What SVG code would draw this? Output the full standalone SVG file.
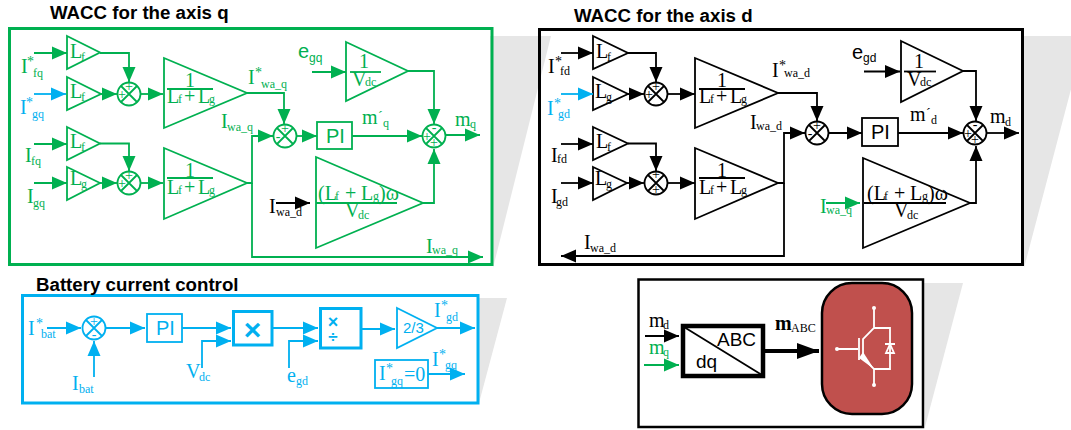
<svg xmlns="http://www.w3.org/2000/svg" width="1071" height="430" viewBox="0 0 1071 430">
<style>
text{font-family:"Liberation Serif","Times New Roman",serif;font-size:20px}
.t{font-family:"Liberation Sans",Arial,sans-serif;font-weight:bold;font-size:18.7px;fill:#000}
.a{font-family:"Liberation Sans",Arial,sans-serif}
.u{font-size:12px}.v{font-size:14px}.m{text-anchor:middle}.n{font-size:14px;text-anchor:middle}
.tg{fill:#00B050}.tk{fill:#000}.tb{fill:#00B0F0}
.sg,.sk,.sb,.cg,.ck,.cb,.lg,.lk,.lb{fill:none;stroke-width:1.8;stroke-linejoin:miter}
.sg,.cg,.lg{stroke:#00B050}.sk,.ck,.lk{stroke:#000}.sb,.cb,.lb{stroke:#00B0F0}
.cg{marker-end:url(#ag)}.ck{marker-end:url(#ak)}.cb{marker-end:url(#ab)}
.bg{fill:#E6E6E6}
.w{fill:none;stroke:#fff;stroke-width:1.8}.wf{fill:#fff}
.sg.x,.sk.x,.sb.x{stroke-width:3}
</style>
<defs>
<marker id="ag" markerUnits="userSpaceOnUse" markerWidth="16" markerHeight="14" refX="15" refY="7" orient="auto"><path d="M0,.5L15,7L0,13.5z" fill="#00B050"/></marker>
<marker id="ak" markerUnits="userSpaceOnUse" markerWidth="16" markerHeight="14" refX="15" refY="7" orient="auto"><path d="M0,.5L15,7L0,13.5z" fill="#000"/></marker>
<marker id="ab" markerUnits="userSpaceOnUse" markerWidth="16" markerHeight="14" refX="15" refY="7" orient="auto"><path d="M0,.5L15,7L0,13.5z" fill="#00B0F0"/></marker>
<marker id="akb" markerUnits="userSpaceOnUse" markerWidth="24" markerHeight="18" refX="22" refY="9" orient="auto"><path d="M0,1L22,9L0,17z" fill="#000"/></marker>
<g id="sum"><circle r="11.5"/><path d="M-8,-8L8,8M-8,8L8,-8"/></g>
</defs>

<g id="shadows">
<polygon class="bg" points="490,36 551,36 493,268"/>
<polygon class="bg" points="1022,36 1085,36 1024,268"/>
<polygon class="bg" points="477,298 507,298 479,403"/>
<polygon class="bg" points="922,283 963,283 925,427"/>
</g>

<g id="panel-q">
<rect class="sg x" x="9.5" y="28.5" width="482.5" height="236"/>
<text class="t" x="50" y="19">WACC for the axis q</text>
</g>
<g id="panel-d">
<rect class="sk x" x="539.5" y="29.5" width="483" height="235"/>
<text class="t" x="574" y="22">WACC for the axis d</text>
</g>
<g id="panel-battery">
<rect class="sb x" x="22.5" y="295.5" width="455.5" height="107.5"/>
<text class="t" x="36" y="291">Battery current control</text>
</g>
<g id="panel-converter">
<rect class="sk" style="stroke-width:2.5" x="638.5" y="279.5" width="284.5" height="147.5"/>
</g>

<g id="q-gain-lf1"><polygon class="sg" points="67,36 100,52.5 67,69"/><text class="tg"><tspan x="70" y="58">L</tspan><tspan class="u" x="81" y="61">f</tspan></text></g>
<g id="q-gain-lf2"><polygon class="sg" points="67,77 101,94 67,110"/><text class="tg"><tspan x="70" y="98">L</tspan><tspan class="u" x="81" y="101">f</tspan></text></g>
<g id="q-gain-lf3"><polygon class="sg" points="67,127 100,143.5 67,160"/><text class="tg"><tspan x="70" y="148">L</tspan><tspan class="u" x="81" y="151">f</tspan></text></g>
<g id="q-gain-lg"><polygon class="sg" points="67,167 100,183 67,200"/><text class="tg"><tspan x="70" y="185">L</tspan><tspan class="u" x="81" y="188">g</tspan></text></g>
<g id="q-sum1"><use href="#sum" class="sg" x="129" y="94"/><text class="tg n" x="129" y="91">+</text><text class="tg n" x="122" y="99">+</text></g>
<g id="q-sum2"><use href="#sum" class="sg" x="129" y="183"/><text class="tg n" x="129" y="180">+</text><text class="tg n" x="122" y="188">+</text></g>
<g id="q-frac1"><polygon class="sg" points="164,58 247,93 164,128"/><path class="lg" d="M167,89H213"/><text class="tg m" x="190" y="87">1</text><text class="tg"><tspan x="167" y="103">L</tspan><tspan class="u" x="178" y="103">f</tspan><tspan x="184" y="103">+</tspan><tspan x="198" y="103">L</tspan><tspan class="u" x="209" y="103">g</tspan></text></g>
<g id="q-frac2"><polygon class="sg" points="164,148 247,183 164,219"/><path class="lg" d="M167,178H213"/><text class="tg m" x="190" y="177">1</text><text class="tg"><tspan x="167" y="194">L</tspan><tspan class="u" x="178" y="194">f</tspan><tspan x="184" y="194">+</tspan><tspan x="198" y="194">L</tspan><tspan class="u" x="209" y="194">g</tspan></text></g>
<g id="q-sum3"><use href="#sum" class="sg" x="285" y="136"/><text class="tg n" x="285" y="133">+</text><text class="tg n" x="278" y="141">-</text></g>
<g id="q-pi"><rect class="sg" x="317" y="122" width="35" height="27"/><text class="tg a" x="326" y="143">PI</text></g>
<g id="q-sum4"><use href="#sum" class="sg" x="434" y="136"/><text class="tg n" x="434" y="132">-</text><text class="tg n" x="427" y="141">+</text><text class="tg n" x="434" y="147">+</text></g>
<g id="q-vdc"><polygon class="sg" points="346,42 408,71 346,101"/><path class="lg" d="M350,72H381"/><text class="tg m" x="364" y="68">1</text><text class="tg"><tspan x="352" y="86">V</tspan><tspan class="u" x="365" y="86">dc</tspan></text></g>
<g id="q-omega"><polygon class="sg" points="316,157 423,203 316,248"/><path class="lg" d="M316,203H397"/><text class="tg"><tspan x="318" y="200">(L</tspan><tspan class="u" x="335" y="200">f</tspan><tspan x="345" y="200">+</tspan><tspan x="361" y="200">L</tspan><tspan class="u" x="373" y="200">g</tspan><tspan x="379" y="200">)ω</tspan></text><text class="tg"><tspan x="345" y="217">V</tspan><tspan class="u" x="358" y="219">dc</tspan></text></g>

<g id="q-labels">
<text class="tg"><tspan x="21" y="73">I</tspan><tspan class="v" x="27" y="66">*</tspan><tspan class="u" x="33" y="77">fq</tspan></text>
<text class="tb"><tspan x="20" y="114">I</tspan><tspan class="v" x="26" y="107">*</tspan><tspan class="u" x="32" y="118">gq</tspan></text>
<text class="tg"><tspan x="25" y="162">I</tspan><tspan class="u" x="31" y="165">fq</tspan></text>
<text class="tg"><tspan x="27" y="203">I</tspan><tspan class="u" x="33" y="207">gq</tspan></text>
<text class="tg"><tspan x="248" y="84">I</tspan><tspan class="v" x="255" y="77">*</tspan><tspan class="u" x="261" y="88">wa_q</tspan></text>
<text class="tg"><tspan x="221" y="128">I</tspan><tspan class="u" x="227" y="131">wa_q</tspan></text>
<text class="tg"><tspan x="362" y="124">m</tspan><tspan class="v" x="378" y="121">´</tspan><tspan class="u" x="383" y="127">q</tspan></text>
<text class="tg"><tspan x="455" y="126">m</tspan><tspan class="u" x="470" y="128">q</tspan></text>
<text class="tg a"><tspan x="298" y="58">e</tspan><tspan class="u" x="309" y="62">gq</tspan></text>
<text class="tk"><tspan x="269" y="213">I</tspan><tspan class="u" x="276" y="216">wa_d</tspan></text>
<text class="tg"><tspan x="426" y="253">I</tspan><tspan class="u" x="432" y="254">wa_q</tspan></text>
</g>

<g id="d-gain-lf1"><polygon class="sk" points="593,36 628,53 593,69"/><text class="tk"><tspan x="596" y="58">L</tspan><tspan class="u" x="607" y="61">f</tspan></text></g>
<g id="d-gain-lg1"><polygon class="sk" points="593,77 628,94 593,110"/><text class="tk"><tspan x="595" y="98">L</tspan><tspan class="u" x="606" y="101">g</tspan></text></g>
<g id="d-gain-lf2"><polygon class="sk" points="593,127 628,143.5 593,160"/><text class="tk"><tspan x="596" y="148">L</tspan><tspan class="u" x="607" y="151">f</tspan></text></g>
<g id="d-gain-lg2"><polygon class="sk" points="593,167 627,183 593,200"/><text class="tk"><tspan x="595" y="185">L</tspan><tspan class="u" x="606" y="188">g</tspan></text></g>
<g id="d-sum1"><use href="#sum" class="sk" x="656" y="94"/><text class="tk n" x="656" y="91">+</text><text class="tk n" x="649" y="99">+</text></g>
<g id="d-sum2"><use href="#sum" class="sk" x="656" y="183"/><text class="tk n" x="656" y="179">+</text><text class="tk n" x="656" y="194">+</text></g>
<g id="d-frac1"><polygon class="sk" points="695,58 778,93 695,128"/><path class="lk" d="M699,89H745"/><text class="tk m" x="722" y="87">1</text><text class="tk"><tspan x="699" y="103">L</tspan><tspan class="u" x="710" y="103">f</tspan><tspan x="716" y="103">+</tspan><tspan x="730" y="103">L</tspan><tspan class="u" x="741" y="103">g</tspan></text></g>
<g id="d-frac2"><polygon class="sk" points="695,148 778,183 695,219"/><path class="lk" d="M699,178H745"/><text class="tk m" x="722" y="177">1</text><text class="tk"><tspan x="699" y="194">L</tspan><tspan class="u" x="710" y="194">f</tspan><tspan x="716" y="194">+</tspan><tspan x="730" y="194">L</tspan><tspan class="u" x="741" y="194">g</tspan></text></g>
<g id="d-sum3"><use href="#sum" class="sk" x="817" y="133"/><text class="tk n" x="817" y="130">+</text><text class="tk n" x="810" y="138">-</text></g>
<g id="d-pi"><rect class="sk" x="862" y="118" width="36" height="28"/><text class="tk a" x="871" y="139">PI</text></g>
<g id="d-sum4"><use href="#sum" class="sk" x="975" y="133"/><text class="tk n" x="975" y="129">-</text><text class="tk n" x="968" y="138">+</text><text class="tk n" x="975" y="144">+</text></g>
<g id="d-vdc"><polygon class="sk" points="901,41 963,71 901,102"/><path class="lk" d="M904,71.5H936"/><text class="tk m" x="919" y="68">1</text><text class="tk"><tspan x="907" y="86">V</tspan><tspan class="u" x="920" y="86">dc</tspan></text></g>
<g id="d-omega"><polygon class="sk" points="863,158 970,203 863,248"/><path class="lk" d="M864,203H946"/><text class="tk"><tspan x="867" y="200">(L</tspan><tspan class="u" x="884" y="200">f</tspan><tspan x="894" y="200">+</tspan><tspan x="910" y="200">L</tspan><tspan class="u" x="922" y="200">g</tspan><tspan x="928" y="200">)ω</tspan></text><text class="tk"><tspan x="894" y="217">V</tspan><tspan class="u" x="907" y="219">dc</tspan></text></g>

<g id="d-labels">
<text class="tk"><tspan x="548" y="73">I</tspan><tspan class="v" x="555" y="66">*</tspan><tspan class="u" x="560" y="75">fd</tspan></text>
<text class="tb"><tspan x="547" y="115">I</tspan><tspan class="v" x="554" y="108">*</tspan><tspan class="u" x="558" y="118">gd</tspan></text>
<text class="tk"><tspan x="551" y="162">I</tspan><tspan class="u" x="557" y="163">fd</tspan></text>
<text class="tk"><tspan x="551" y="203">I</tspan><tspan class="u" x="556" y="206">gd</tspan></text>
<text class="tk"><tspan x="772" y="77">I</tspan><tspan class="v" x="779" y="70">*</tspan><tspan class="u" x="784" y="77">wa_d</tspan></text>
<text class="tk"><tspan x="750" y="129">I</tspan><tspan class="u" x="756" y="130">wa_d</tspan></text>
<text class="tk"><tspan x="910" y="121">m</tspan><tspan class="v" x="926" y="118">´</tspan><tspan class="u" x="931" y="124">d</tspan></text>
<text class="tk"><tspan x="990" y="123">m</tspan><tspan class="u" x="1005" y="126">d</tspan></text>
<text class="tk a"><tspan x="852" y="59">e</tspan><tspan class="u" x="863" y="62">gd</tspan></text>
<text class="tg"><tspan x="820" y="213">I</tspan><tspan class="u" x="826" y="214">wa_q</tspan></text>
<text class="tk"><tspan x="584" y="249">I</tspan><tspan class="u" x="590" y="252">wa_d</tspan></text>
</g>

<g id="b-sum"><use href="#sum" class="sb" x="94" y="328"/><text class="tb n" x="94" y="326">+</text><text class="tb n" x="94" y="339">-</text></g>
<g id="b-pi"><rect class="sb" x="147" y="314" width="35" height="28"/><text class="tb a" x="156" y="335">PI</text></g>
<g id="b-mult"><rect class="sb x" x="233.5" y="311.5" width="38.5" height="33.5"/><text class="tb a m" style="font-weight:bold;font-size:30px" x="252.5" y="340">×</text></g>
<g id="b-div"><rect class="sb x" x="320.5" y="308.5" width="40.5" height="39.5"/><text class="tb a m" style="font-weight:bold;font-size:18px" x="333" y="328">×</text><text class="tb a m" style="font-size:17px;font-weight:bold" x="333" y="342">÷</text></g>
<g id="b-gain"><polygon class="sb" points="397,308 437,328 397,348"/><text class="tb a" style="font-size:15px" x="403" y="333">2/3</text></g>
<g id="b-zero"><rect class="sb" x="375" y="360" width="53" height="28"/><text class="tb"><tspan x="379" y="380">I</tspan><tspan class="v" x="386" y="373">*</tspan><tspan class="u" x="391" y="385">gq</tspan><tspan x="404" y="381">=0</tspan></text></g>
<g id="b-labels">
<text class="tb"><tspan x="28" y="335">I</tspan><tspan class="v" x="36" y="328">*</tspan><tspan class="u" x="41" y="338">bat</tspan></text>
<text class="tb"><tspan x="72" y="390">I</tspan><tspan class="u" x="79" y="393">bat</tspan></text>
<text class="tb"><tspan x="186" y="378">V</tspan><tspan class="u" x="199" y="381">dc</tspan></text>
<text class="tb"><tspan x="287" y="382">e</tspan><tspan class="u" x="296" y="385">gd</tspan></text>
<text class="tb"><tspan x="434" y="317">I</tspan><tspan class="v" x="441" y="310">*</tspan><tspan class="u" x="446" y="321">gd</tspan></text>
<text class="tb"><tspan x="432" y="366">I</tspan><tspan class="v" x="439" y="359">*</tspan><tspan class="u" x="445" y="369">gq</tspan></text>
</g>

<g id="c-abc"><rect class="sk" style="stroke-width:4.5" x="683" y="326" width="80" height="50"/><path class="lk" d="M684,327L762,375"/><text class="tk a" style="font-size:19px" x="717" y="346">ABC</text><text class="tk a" style="font-size:19px" x="696" y="368">dq</text></g>
<g id="c-labels">
<text class="tk"><tspan x="649" y="327">m</tspan><tspan class="u" x="663" y="329">d</tspan></text>
<text class="tg"><tspan x="649" y="354">m</tspan><tspan class="u" x="663" y="356">q</tspan></text>
<text class="tk"><tspan x="775" y="330" font-weight="bold">m</tspan><tspan class="u" x="791" y="332">ABC</tspan></text>
</g>
<g id="c-igbt">
<rect x="822" y="283" width="90" height="131" rx="30" ry="30" fill="#C0504D" stroke="#000" stroke-width="2.5"/>
<path class="w" d="M874,308V328L863,339V358L874,369V385M874,328H890V369H874M837,349H858M859,338V360"/>
<circle class="wf" cx="874" cy="308" r="2"/><circle class="wf" cx="874" cy="385" r="2"/><circle class="wf" cx="837" cy="349" r="2"/>
<polygon class="wf" points="859,358 863,352 874,369"/>
<path class="w" d="M885,344H895M890,344L886,353H894Z"/>
</g>

<g id="connectors">
<path class="cg" d="M34,53H67"/><path class="cb" d="M34,94H66"/><path class="cg" d="M34,144H67"/><path class="cg" d="M34,183H67"/>
<path class="cg" d="M100,53H129V82"/>
<path class="cg" d="M101,94H117"/><path class="cg" d="M141,94H163"/>
<path class="cg" d="M100,143.5H129V171"/>
<path class="cg" d="M100,183H117"/><path class="cg" d="M141,183H163"/>
<path class="cg" d="M247,93H284V124"/>
<path class="cg" d="M247,183H252V136H273"/><path class="cg" d="M252,183V257H483"/>
<path class="cg" d="M297,136H317"/><path class="cg" d="M352,136H422"/><path class="cg" d="M446,135H480"/>
<path class="cg" d="M312,72H346"/><path class="cg" d="M408,71H434V124"/>
<path class="cg" d="M423,203H434V149"/><path class="ck" d="M276,203H310"/>

<path class="ck" d="M561,53H593"/><path class="cb" d="M561,94H593"/><path class="ck" d="M561,144H593"/><path class="ck" d="M561,183H593"/>
<path class="ck" d="M628,53H656V82"/><path class="ck" d="M628,94H644"/><path class="ck" d="M668,94H695"/>
<path class="ck" d="M628,143.5H656V171"/><path class="ck" d="M627,183H644"/><path class="ck" d="M668,183H695"/>
<path class="ck" d="M778,93H817V121"/>
<path class="ck" d="M778,183H784V133H805"/><path class="ck" d="M784,183V256H561"/>
<path class="ck" d="M829,133H862"/><path class="ck" d="M898,133H963"/><path class="ck" d="M987,133H1019"/>
<path class="ck" d="M864,71.5H900"/><path class="ck" d="M963,71H976V121"/>
<path class="ck" d="M970,203H976V146"/><path class="cg" d="M826,203H860"/>

<path class="cb" d="M47,328H81"/><path class="cb" d="M106,328H145"/><path class="cb" d="M94,377V341"/>
<path class="cb" d="M182,328H231"/><path class="cb" d="M202,368V341H231"/>
<path class="cb" d="M273,328H318"/><path class="cb" d="M289,368V341H318"/>
<path class="cb" d="M362,329H395"/><path class="cb" d="M437,328H475"/><path class="cb" d="M428,374H465"/>

<path class="ck" d="M645,336H679"/><path class="cg" d="M644,365H679"/>
<path class="lk" style="stroke-width:4;marker-end:url(#akb)" d="M765,351H819"/>
</g>
</svg>
